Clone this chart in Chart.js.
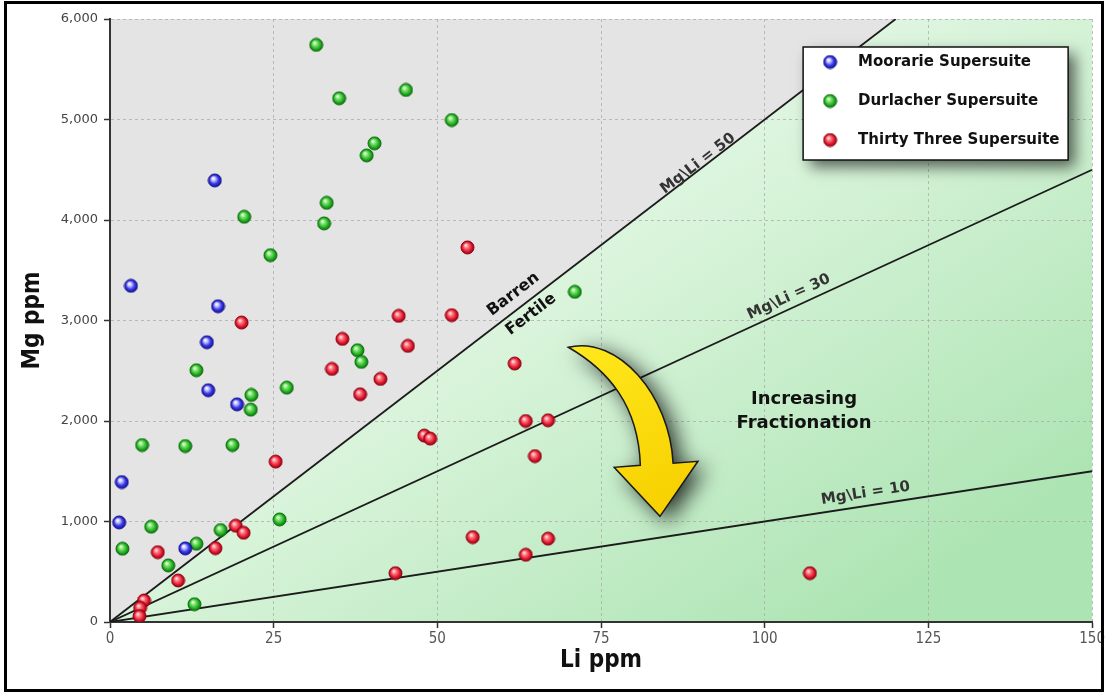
<!DOCTYPE html>
<html>
<head>
<meta charset="utf-8">
<script src="https://cdn.jsdelivr.net/npm/chart.js@4.4.1/dist/chart.umd.min.js"></script>
<style>
  html, body { margin: 0; padding: 0; background: #fff; }
</style>
</head>
<body>
<canvas id="mgLiChart" width="1107" height="695"></canvas>
<script>
// values (Li ppm, Mg ppm)
const mooraireLi = [16.0, 3.2, 16.5, 14.8, 15.0, 19.4, 1.8, 1.4, 11.5];
const mooraireMg = [4394, 3345, 3142, 2784, 2306, 2166, 1393, 991, 732];

const durlacherLi = [31.5, 35.0, 40.4, 39.2, 33.1, 20.5, 32.7, 24.5, 45.2, 52.2, 71.0, 37.8, 38.4, 13.2,
    27.0, 21.6, 21.5, 4.9, 11.5, 18.7, 25.9, 6.3, 16.9, 1.9, 13.2, 8.9, 12.9];
const durlacherMg = [5742, 5211, 4763, 4643, 4171, 4032, 3966, 3650, 5294, 4995, 3285, 2704, 2588, 2505,
    2332, 2259, 2113, 1761, 1751, 1761, 1021, 948, 915, 729, 779, 563, 177];

const thirtyThreeLi = [20.1, 35.5, 33.9, 41.3, 38.2, 25.3, 19.2, 20.4, 7.3, 16.1, 10.4, 5.2, 4.6, 4.5, 43.6,
    54.6, 44.1, 52.2, 45.5, 61.8, 48.0, 48.9, 63.5, 66.9, 64.9, 55.4, 66.9, 63.5, 106.9];
const thirtyThreeMg = [2980, 2817, 2518, 2418, 2266, 1596, 958, 888, 695, 735, 413, 214, 141, 58, 486,
    3727, 3046, 3053, 2747, 2572, 1855, 1825, 2000, 2007, 1651, 845, 829, 669, 486];

const suiteNames = ['Moorarie Supersuite', 'Durlacher Supersuite', 'Thirty Three Supersuite'];
const ratioLines = [50, 30, 10];
const xMax = 150;
const yMax = 6000;

const toPoints = (xs, ys) => xs.map((x, i) => ({ x: x, y: ys[i] }));

// little shaded balls for the markers
function makeBall(stops) {
    const r = 6.5;
    const size = 15;
    const c = document.createElement('canvas');
    c.width = size;
    c.height = size;
    const g = c.getContext('2d');
    const m = size / 2;
    const grad = g.createRadialGradient(m - 1.8, m - 2.2, 0.5, m, m, r);
    stops.forEach((s, i) => grad.addColorStop(s[0], s[1]));
    g.fillStyle = grad;
    g.beginPath();
    g.arc(m, m, r, 0, Math.PI * 2);
    g.fill();
    g.lineWidth = 1;
    g.strokeStyle = stops[stops.length - 1][1];
    g.stroke();
    return c;
}

const balls = [
    makeBall([[0, '#ffffff'], [0.3, '#b4b4ff'], [0.62, '#3c3cea'], [1, '#121290']]),
    makeBall([[0, '#e6ffe0'], [0.3, '#7ee46e'], [0.7, '#26b026'], [1, '#0c6e0c']]),
    makeBall([[0, '#ffe4e4'], [0.3, '#ff7480'], [0.7, '#e01c2e'], [1, '#900014']])
];

const scatterSets = [
    toPoints(mooraireLi, mooraireMg),
    toPoints(durlacherLi, durlacherMg),
    toPoints(thirtyThreeLi, thirtyThreeMg)
].map((pts, i) => ({
    type: 'scatter',
    label: suiteNames[i],
    data: pts,
    pointStyle: balls[i],
    pointRadius: 7,
    order: 1
}));

const lineSets = ratioLines.map(r => ({
    type: 'line',
    label: 'Mg\\Li = ' + r,
    data: [{ x: 0, y: 0 }, { x: Math.min(xMax, yMax / r), y: Math.min(xMax * r, yMax) }],
    borderColor: '#1c1c1c',
    borderWidth: 1.8,
    pointRadius: 0,
    fill: false,
    order: 5
}));

const condFont = "'DejaVu Sans Condensed', 'Liberation Sans Narrow', sans-serif";

// gray "barren" field above Mg/Li = 50, green field below it
const fieldsPlugin = {
    id: 'fields',
    beforeDraw(chart) {
        const { ctx, chartArea: a, scales: { x, y } } = chart;
        ctx.save();
        ctx.fillStyle = '#e4e4e4';
        ctx.fillRect(a.left, a.top, a.right - a.left, a.bottom - a.top);
        const grad = ctx.createLinearGradient(x.getPixelForValue(55), a.top, x.getPixelForValue(115), a.bottom);
        grad.addColorStop(0, '#f4fcf4');
        grad.addColorStop(0.45, '#d6f3d8');
        grad.addColorStop(1, '#ade4b3');
        ctx.fillStyle = grad;
        ctx.beginPath();
        ctx.moveTo(x.getPixelForValue(0), y.getPixelForValue(0));
        ctx.lineTo(x.getPixelForValue(yMax / 50), y.getPixelForValue(yMax));
        ctx.lineTo(x.getPixelForValue(xMax), y.getPixelForValue(yMax));
        ctx.lineTo(x.getPixelForValue(xMax), y.getPixelForValue(0));
        ctx.closePath();
        ctx.fill();
        ctx.restore();
    }
};

// labels along the ratio lines, the arrow, the legend box and the frame
const notesPlugin = {
    id: 'notes',
    afterDatasetsDraw(chart) {
        const { ctx, scales: { x, y } } = chart;
        const P = (xv, yv) => [x.getPixelForValue(xv), y.getPixelForValue(yv)];
        const angleOf = r => {
            const xe = Math.min(xMax, yMax / r);
            const a = P(0, 0), b = P(xe, xe * r);
            return Math.atan2(b[1] - a[1], b[0] - a[0]);
        };
        const rotText = (txt, xv, yv, ang, font, color) => {
            const p = P(xv, yv);
            ctx.save();
            ctx.translate(p[0], p[1]);
            ctx.rotate(ang);
            ctx.font = font;
            ctx.fillStyle = color;
            ctx.textAlign = 'center';
            ctx.textBaseline = 'middle';
            ctx.fillText(txt, 0, 0);
            ctx.restore();
        };
        const lblFont = "bold 15px 'DejaVu Sans', sans-serif";
        rotText('Barren', 61.6, 3260, angleOf(50), "bold 16px 'DejaVu Sans', sans-serif", '#111');
        rotText('Fertile', 64.3, 3060, angleOf(50), "bold 16px 'DejaVu Sans', sans-serif", '#111');
        rotText('Mg\\Li = 50', 89.8, 4560, angleOf(50), lblFont, '#333');
        rotText('Mg\\Li = 30', 103.7, 3235, angleOf(30), lblFont, '#333');
        rotText('Mg\\Li = 10', 115.4, 1280, angleOf(10), lblFont, '#333');
        rotText('Increasing', 106.0, 2216, 0, "bold 18px 'DejaVu Sans', sans-serif", '#111');
        rotText('Fractionation', 106.0, 1974, 0, "bold 18px 'DejaVu Sans', sans-serif", '#111');

        // curved yellow arrow
        const tail = P(70.0, 2734);
        ctx.save();
        ctx.beginPath();
        ctx.moveTo(tail[0], tail[1]);
        ctx.bezierCurveTo(...P(77.6, 2853), ...P(85.5, 2256), ...P(86.0, 1579));
        ctx.lineTo(...P(89.8, 1599));
        ctx.lineTo(...P(84.0, 1051));
        ctx.lineTo(...P(77.0, 1539));
        ctx.lineTo(...P(81.0, 1559));
        ctx.bezierCurveTo(...P(80.7, 2156), ...P(76.1, 2505), tail[0], tail[1]);
        ctx.closePath();
        ctx.shadowColor = 'rgba(0,0,0,0.8)';
        ctx.shadowBlur = 22;
        ctx.shadowOffsetX = 8;
        ctx.shadowOffsetY = 6;
        const yg = ctx.createLinearGradient(tail[0], tail[1], ...P(84.0, 1051));
        yg.addColorStop(0, '#ffe81c');
        yg.addColorStop(1, '#f7d000');
        ctx.fillStyle = yg;
        ctx.fill();
        ctx.shadowColor = 'transparent';
        ctx.lineWidth = 1.5;
        ctx.strokeStyle = '#1a1a1a';
        ctx.lineJoin = 'miter';
        ctx.stroke();
        ctx.restore();
    },
    afterDraw(chart) {
        const { ctx, chartArea: a } = chart;
        // legend box
        const bw = 265, bh = 113;
        const bx = a.right - 24 - bw, by = a.top + 28;
        ctx.save();
        ctx.shadowColor = 'rgba(0,0,0,0.6)';
        ctx.shadowBlur = 14;
        ctx.shadowOffsetX = 7;
        ctx.shadowOffsetY = 7;
        ctx.fillStyle = '#fff';
        ctx.fillRect(bx, by, bw, bh);
        ctx.restore();
        ctx.save();
        ctx.lineWidth = 1.5;
        ctx.strokeStyle = '#111';
        ctx.strokeRect(bx, by, bw, bh);
        ctx.font = "bold 15px 'DejaVu Sans', sans-serif";
        ctx.fillStyle = '#111';
        ctx.textBaseline = 'middle';
        suiteNames.forEach((name, i) => {
            const cy = by + 15 + i * 39;
            const b = balls[i];
            ctx.drawImage(b, bx + 27 - b.width / 2, cy - b.height / 2);
            ctx.fillText(name, bx + 55, cy);
        });
        // outer frame
        ctx.lineWidth = 3;
        ctx.strokeStyle = '#000';
        ctx.strokeRect(5.5, 2.5, 1097, 688);
        ctx.restore();
    }
};

new Chart(document.getElementById('mgLiChart'), {
    data: { datasets: scatterSets.concat(lineSets) },
    options: {
        responsive: false,
        animation: false,
        layout: { padding: { top: 19, right: 11, left: 0, bottom: 0 } },
        plugins: {
            legend: { display: false },
            tooltip: { enabled: false }
        },
        scales: {
            x: {
                type: 'linear',
                min: 0,
                max: xMax,
                afterFit: s => { s.height = 73; },
                ticks: {
                    stepSize: 25,
                    padding: 2,
                    color: '#555',
                    font: { family: "'Liberation Sans Narrow', 'DejaVu Sans Condensed', sans-serif", size: 15 }
                },
                grid: {
                    color: 'rgba(165,165,165,0.7)',
                    lineWidth: 1,
                    tickLength: 6,
                    tickColor: '#333',
                    tickWidth: 1.5
                },
                border: { color: '#333', width: 2, dash: [3, 3] },
                title: {
                    display: true,
                    text: 'Li ppm',
                    color: '#111',
                    font: { family: condFont, size: 24, weight: 'bold' },
                    padding: { top: 0, bottom: 20 }
                }
            },
            y: {
                type: 'linear',
                min: 0,
                max: yMax,
                afterFit: s => { s.width = 110; },
                ticks: {
                    stepSize: 1000,
                    padding: 6,
                    color: '#444',
                    font: { family: "'DejaVu Sans', sans-serif", size: 13 },
                    callback: v => v.toLocaleString('en-US')
                },
                grid: {
                    color: 'rgba(165,165,165,0.7)',
                    lineWidth: 1,
                    tickLength: 6,
                    tickColor: '#333',
                    tickWidth: 1.5
                },
                border: { color: '#333', width: 2, dash: [3, 3] },
                title: {
                    display: true,
                    text: 'Mg ppm',
                    color: '#111',
                    font: { family: condFont, size: 24, weight: 'bold' },
                    padding: { top: 18, bottom: 0 }
                }
            }
        }
    },
    plugins: [fieldsPlugin, notesPlugin]
});
</script>
</body>
</html>
